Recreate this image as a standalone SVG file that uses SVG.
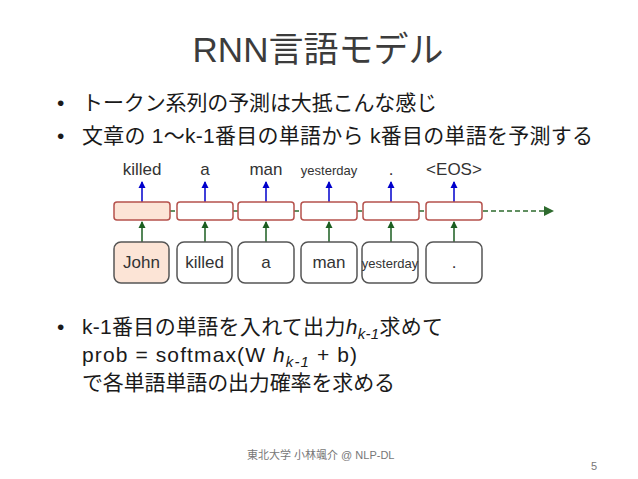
<svg xmlns="http://www.w3.org/2000/svg" width="638" height="479" viewBox="0 0 638 479">
<defs>
<style>
text{font-family:"Liberation Sans","Noto Sans CJK JP",sans-serif;}
.title{font-size:35px;fill:#3c3c3c;}
.body{font-size:21px;fill:#1a1a1a;}
.lbl{font-size:17px;fill:#333;text-anchor:middle;}
.sm{font-size:13px;fill:#333;text-anchor:middle;}
.hid{fill:#fff;stroke:#b5514c;stroke-width:1.5;}
.inp{fill:#fff;stroke:#555;stroke-width:1.5;}
.peach{fill:#fce4d6;}
.up{stroke:#0000cc;stroke-width:1.5;fill:none;}
.in{stroke:#1b5e20;stroke-width:1.5;fill:none;}
.rec{stroke:#2e6b2e;stroke-width:1.5;stroke-dasharray:5,3;fill:none;}
.foot{font-size:11px;fill:#777;}
</style>
<marker id="ab" markerWidth="8" markerHeight="8" refX="6" refY="4" orient="auto" markerUnits="userSpaceOnUse"><path d="M0,0 L8,4 L0,8 z" fill="#0000cc" transform="translate(-1,0)"/></marker>
<marker id="ag" markerWidth="8" markerHeight="8" refX="6" refY="4" orient="auto" markerUnits="userSpaceOnUse"><path d="M0,0 L8,4 L0,8 z" fill="#1b5e20" transform="translate(-1,0)"/></marker>
<marker id="ad" markerWidth="10" markerHeight="10" refX="9" refY="5" orient="auto" markerUnits="userSpaceOnUse"><path d="M0,0 L10,5 L0,10 z" fill="#2e6b2e"/></marker>
</defs>
<rect width="638" height="479" fill="#fff"/>
<text class="title" x="318" y="62" text-anchor="middle">RNN言語モデル</text>
<g id="bullets">
<text class="body" x="57" y="110">•</text>
<text class="body" x="82" y="110" textLength="355" lengthAdjust="spacing">トークン系列の予測は大抵こんな感じ</text>
<text class="body" x="57" y="143">•</text>
<text class="body" x="82" y="143" textLength="511" lengthAdjust="spacing">文章の 1〜k-1番目の単語から k番目の単語を予測する</text>
<text class="body" x="57" y="334">•</text>
<text class="body" x="82" y="334" textLength="361" lengthAdjust="spacing">k-1番目の単語を入れて出力<tspan font-style="italic">h</tspan><tspan font-style="italic" font-size="15px" dy="5">k-1</tspan><tspan dy="-5">求めて</tspan></text>
<text class="body" x="82" y="362" textLength="275" lengthAdjust="spacing">prob = softmax(W <tspan font-style="italic">h</tspan><tspan font-style="italic" font-size="15px" dy="5">k-1</tspan><tspan dy="-5"> + b)</tspan></text>
<text class="body" x="82" y="390" textLength="313" lengthAdjust="spacing">で各単語単語の出力確率を求める</text>
</g>
<g id="connectors">
<line class="rec" x1="170" y1="211" x2="177" y2="211"/>
<line class="rec" x1="233" y1="211" x2="238" y2="211"/>
<line class="rec" x1="294" y1="211" x2="301" y2="211"/>
<line class="rec" x1="357" y1="211" x2="363" y2="211"/>
<line class="rec" x1="419" y1="211" x2="426" y2="211"/>
<line class="rec" x1="483" y1="211" x2="553" y2="211" marker-end="url(#ad)"/>
<line class="up" x1="142" y1="202" x2="142" y2="182" marker-end="url(#ab)"/>
<line class="up" x1="205" y1="202" x2="205" y2="182" marker-end="url(#ab)"/>
<line class="up" x1="266" y1="202" x2="266" y2="182" marker-end="url(#ab)"/>
<line class="up" x1="329" y1="202" x2="329" y2="182" marker-end="url(#ab)"/>
<line class="up" x1="391" y1="202" x2="391" y2="182" marker-end="url(#ab)"/>
<line class="up" x1="454" y1="202" x2="454" y2="182" marker-end="url(#ab)"/>
<line class="in" x1="142" y1="242" x2="142" y2="222" marker-end="url(#ag)"/>
<line class="in" x1="205" y1="242" x2="205" y2="222" marker-end="url(#ag)"/>
<line class="in" x1="266" y1="242" x2="266" y2="222" marker-end="url(#ag)"/>
<line class="in" x1="329" y1="242" x2="329" y2="222" marker-end="url(#ag)"/>
<line class="in" x1="391" y1="242" x2="391" y2="222" marker-end="url(#ag)"/>
<line class="in" x1="454" y1="242" x2="454" y2="222" marker-end="url(#ag)"/>
</g>
<g id="outputs">
<text class="lbl" x="142" y="175">killed</text>
<text class="lbl" x="205" y="175">a</text>
<text class="lbl" x="266" y="175">man</text>
<text class="sm" x="329" y="175">yesterday</text>
<text class="lbl" x="391" y="175">.</text>
<text class="lbl" x="454" y="175">&lt;EOS&gt;</text>
</g>
<g id="h1"><rect class="hid peach" x="114" y="202" width="56" height="18" rx="3"/></g>
<g id="h2"><rect class="hid" x="177" y="202" width="56" height="18" rx="3"/></g>
<g id="h3"><rect class="hid" x="238" y="202" width="56" height="18" rx="3"/></g>
<g id="h4"><rect class="hid" x="301" y="202" width="56" height="18" rx="3"/></g>
<g id="h5"><rect class="hid" x="363" y="202" width="56" height="18" rx="3"/></g>
<g id="h6"><rect class="hid" x="426" y="202" width="56" height="18" rx="3"/></g>
<g id="x1"><rect class="inp peach" x="114" y="242" width="55" height="41" rx="7"/><text class="lbl" x="141.5" y="268">John</text></g>
<g id="x2"><rect class="inp" x="177" y="242" width="55" height="41" rx="7"/><text class="lbl" x="204.5" y="268">killed</text></g>
<g id="x3"><rect class="inp" x="238" y="242" width="56" height="41" rx="7"/><text class="lbl" x="266" y="268">a</text></g>
<g id="x4"><rect class="inp" x="301" y="242" width="56" height="41" rx="7"/><text class="lbl" x="329" y="268">man</text></g>
<g id="x5"><rect class="inp" x="362" y="242" width="56" height="41" rx="7"/><text class="sm" x="390" y="268">yesterday</text></g>
<g id="x6"><rect class="inp" x="426" y="242" width="56" height="41" rx="7"/><text class="lbl" x="454" y="268">.</text></g>
<text class="foot" x="247" y="459">東北大学 小林颯介 @ NLP-DL</text>
<text class="foot" x="597" y="470" text-anchor="end" font-size="12px">5</text>
</svg>
